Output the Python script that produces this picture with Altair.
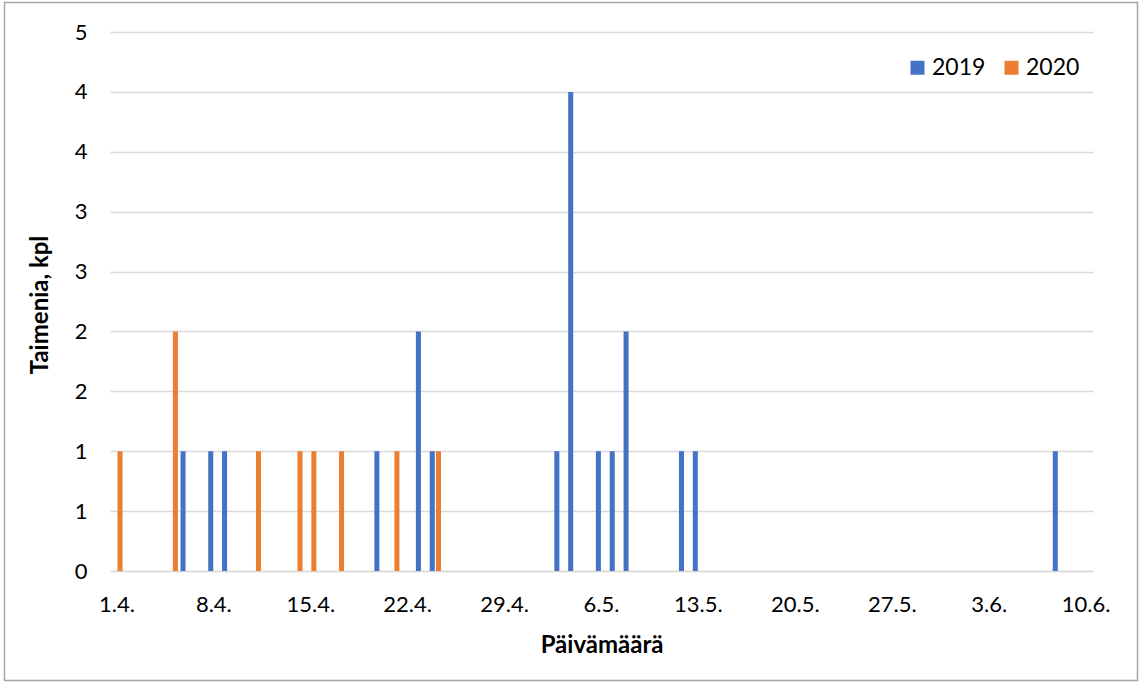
import altair as alt
import pandas as pd

# Every day on the category axis (1.4.–10.6.), labelled once a week
days = pd.date_range("2020-04-01", "2020-06-10", freq="D")
day_labels = [f"{d.day}.{d.month}." for d in days]
tick_labels = ["1.4.", "8.4.", "15.4.", "22.4.", "29.4.", "6.5.",
               "13.5.", "20.5.", "27.5.", "3.6.", "10.6."]

# Trout counts per day
dates_2019 = ["6.4.", "8.4.", "9.4.", "20.4.", "23.4.", "24.4.", "3.5.",
              "4.5.", "6.5.", "7.5.", "8.5.", "12.5.", "13.5.", "8.6."]
counts_2019 = [1, 1, 1, 1, 2, 1, 1, 4, 1, 1, 2, 1, 1, 1]
dates_2020 = ["1.4.", "5.4.", "11.4.", "14.4.", "15.4.", "17.4.", "21.4.", "24.4."]
counts_2020 = [1, 2, 1, 1, 1, 1, 1, 1]

years = ["2019", "2020"]
colors = ["#4472C4", "#ED7D31"]
y_ticks = [0, 0.5, 1, 1.5, 2, 2.5, 3, 3.5, 4, 4.5]

df = pd.DataFrame({
    "Päivä": dates_2019 + dates_2020,
    "Vuosi": ["2019"] * len(dates_2019) + ["2020"] * len(dates_2020),
    "Taimenia": counts_2019 + counts_2020,
})

W, H = 983, 539
FONT = "Lato"

bars = alt.Chart(df).mark_bar(strokeWidth=0).encode(
    x=alt.X(
        "Päivä:N",
        sort=day_labels,
        scale=alt.Scale(domain=day_labels, paddingInner=0, paddingOuter=0),
        axis=alt.Axis(
            values=tick_labels,
            title="Päivämäärä",
            labelAngle=0,
            labelFontSize=22,
            labelColor="#000000",
            labelPadding=23,
            ticks=False,
            domainColor="#D9D9D9",
            domainWidth=1.5,
            grid=False,
            titleFontSize=24,
            titleFontWeight="bold",
            titleColor="#000000",
            titleX=W / 2,
            titleY=74,
            titleBaseline="middle",
            titleAlign="center",
        ),
    ),
    xOffset=alt.XOffset(
        "Vuosi:N",
        scale=alt.Scale(domain=years, paddingInner=0.19, paddingOuter=0.21),
    ),
    y=alt.Y(
        "Taimenia:Q",
        scale=alt.Scale(domain=[0, 4.5], nice=False, zero=True),
        axis=alt.Axis(
            values=y_ticks,
            labelExpr="'' + round(datum.value)",
            title="Taimenia, kpl",
            labelFontSize=22,
            labelColor="#000000",
            labelPadding=23,
            ticks=False,
            domain=False,
            grid=True,
            gridColor="#D9D9D9",
            gridWidth=1.5,
            titleFontSize=24,
            titleFontWeight="bold",
            titleColor="#000000",
            titleAngle=-90,
            titleX=-70,
            titleY=H / 2 + 3,
            titleBaseline="middle",
            titleAlign="center",
        ),
    ),
    color=alt.Color(
        "Vuosi:N",
        scale=alt.Scale(domain=years, range=colors),
        legend=alt.Legend(
            title=None,
            orient="none",
            legendX=796,
            legendY=24,
            direction="horizontal",
            symbolType="square",
            symbolSize=196,
            symbolStrokeWidth=0,
            labelFontSize=23,
            labelColor="#000000",
            labelOffset=3,
            columnPadding=14,
            padding=0,
        ),
    ),
)

# Outer chart-area border
frame = alt.Chart(pd.DataFrame({"k": [0]})).mark_rect(
    fillOpacity=0, stroke="#A6A6A6", strokeWidth=1.5
).encode(
    x=alt.value(-105.5), x2=alt.value(1027.5),
    y=alt.value(-29.5), y2=alt.value(648.5),
)

chart = alt.layer(bars, frame).properties(
    width=W,
    height=H,
    autosize=alt.AutoSizeParams(type="none"),
    padding={"left": 110, "top": 32, "right": 47, "bottom": 113},
).configure(
    font=FONT,
    background="#FFFFFF",
).configure_view(
    stroke=None,
)

chart.save("out.html", embed_options={"renderer": "svg", "actions": False})
